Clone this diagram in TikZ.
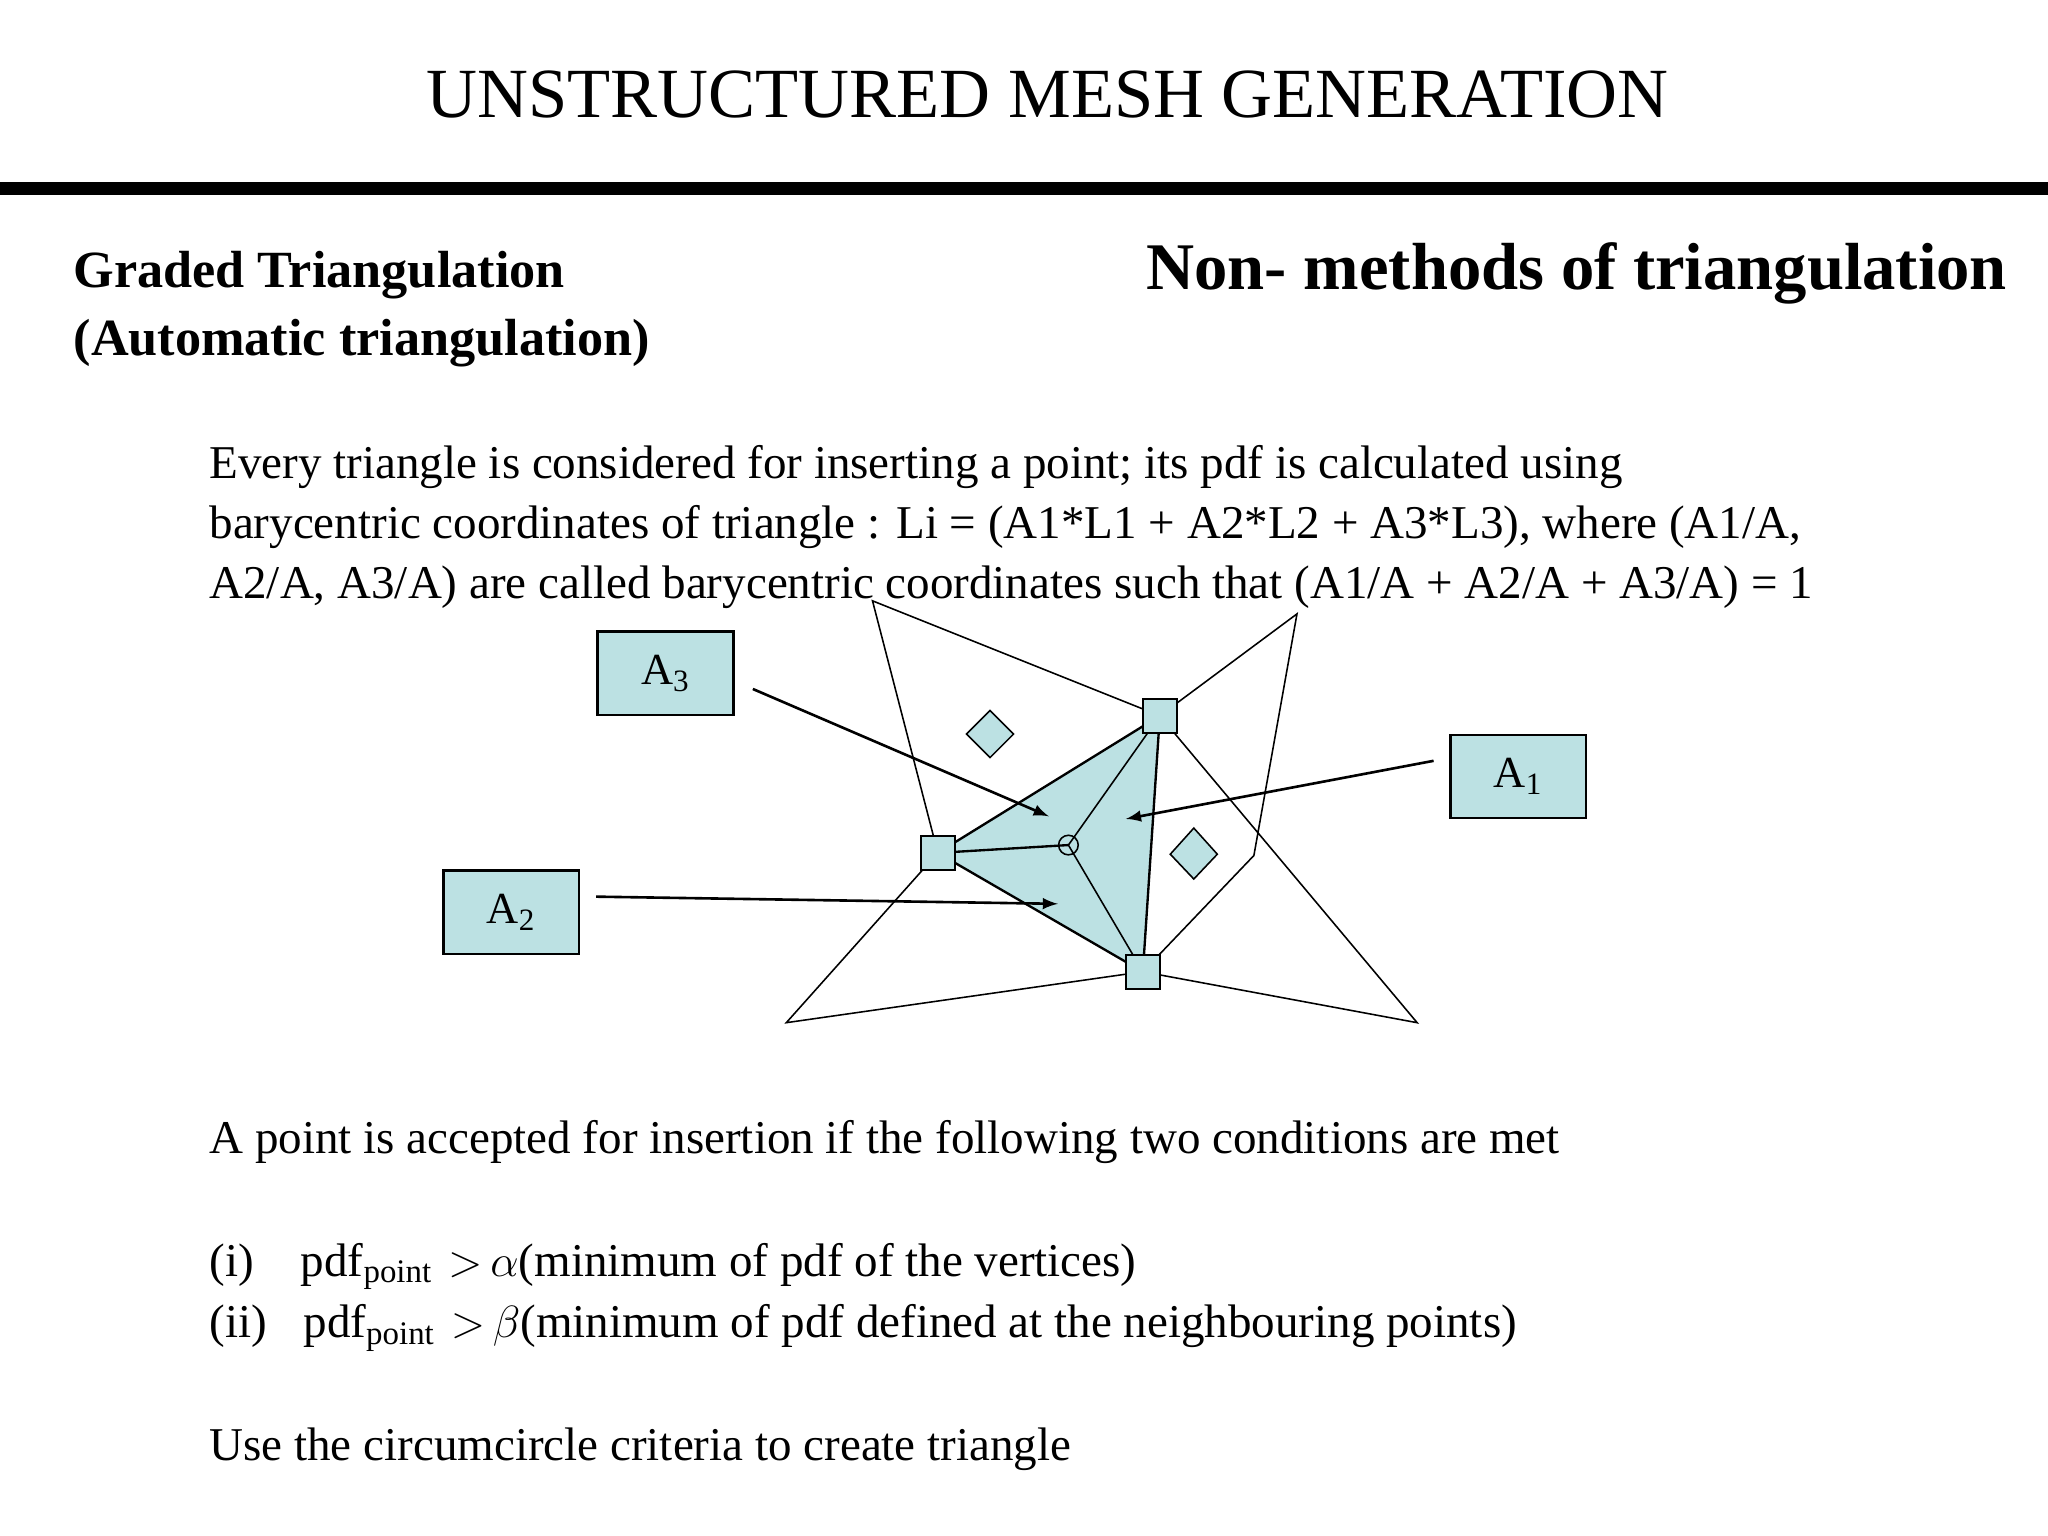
\documentclass[tikz,border=0pt]{standalone}
\usepackage{fontspec}
\setmainfont{Liberation Serif}
\definecolor{teal1}{HTML}{BCE1E3}
\begin{document}
\begin{tikzpicture}[x=0.5pt,y=-0.5pt,
  sq/.style={draw,fill=teal1,minimum size=13pt,inner sep=0pt,line width=0.6pt},
  lab/.style={draw,fill=teal1,minimum width=52pt,minimum height=32pt,line width=0.9pt,font=\fontsize{17}{20}\selectfont},
  arr/.style={-latex,line width=1pt},
  txt/.style={anchor=base west,inner sep=0pt,font=\fontsize{18}{23}\selectfont}]
\useasboundingbox (0,0) rectangle (1568,1176);
\fill[white] (0,0) rectangle (1568,1176);
\node[anchor=base,inner sep=0pt,font=\fontsize{27}{30}\selectfont] (title) at (802,90) {UNSTRUCTURED MESH GENERATION};
\fill (0,139) rectangle (1568,149);
\node[anchor=base west,inner sep=0pt,font=\bfseries\fontsize{20}{26}\selectfont,align=left] (g1) at (56,220) {Graded Triangulation};
\node[anchor=base west,inner sep=0pt,font=\bfseries\fontsize{20}{26}\selectfont] (g2) at (56,272) {(Automatic triangulation)};
\node[anchor=base east,inner sep=0pt,font=\bfseries\fontsize{25.5}{30}\selectfont] (nm) at (1537,222) {Non- methods of triangulation};
\node[txt] (b1) at (160,366) {Every triangle is considered for inserting a point; its pdf is calculated using};
\node[txt] (b2) at (160,412) {barycentric coordinates of triangle : Li = (A1*L1 + A2*L2 + A3*L3), where (A1/A,};
\node[txt] (b3) at (160,458) {A2/A, A3/A) are called barycentric coordinates such that (A1/A + A2/A + A3/A) = 1};
% mesh
\coordinate (T) at (888,548); \coordinate (L) at (718,653); \coordinate (B) at (875,744);
\coordinate (C) at (818,647);
\coordinate (p1) at (668,460); \coordinate (p2) at (993,470); \coordinate (p3) at (960,655);
\coordinate (p4) at (1085,783); \coordinate (p5) at (602,783);
\fill[teal1] (L) -- (T) -- (B) -- cycle;
\draw[line width=0.6pt] (L) -- (p1) -- (T) -- (p2) -- (p3) -- (B) -- (p4) -- (T) (L) -- (p5) -- (B);
\draw[line width=0.9pt] (L) -- (T) -- (B) -- cycle;
\draw[line width=0.9pt] (L) -- (C);
\draw[line width=0.6pt] (C) -- (T) (C) -- (B);
\node[draw,circle,minimum size=7.5pt,inner sep=0pt,line width=0.6pt] (cc) at (C) {};
\node[sq] (sT) at (T) {}; \node[sq] (sL) at (L) {}; \node[sq] (sB) at (B) {};
\draw[fill=teal1,line width=0.6pt] (758,544) -- (776,562) -- (758,580) -- (740,562) -- cycle;
\draw[fill=teal1,line width=0.6pt] (914,634) -- (932,654) -- (914,673) -- (896,654) -- cycle;
\node[lab] (A3) at (509.5,515.5) {A\textsubscript{3}};
\node[lab] (A1) at (1162.5,594.5) {A\textsubscript{1}};
\node[lab] (A2) at (391.5,698.5) {A\textsubscript{2}};
\coordinate (e3) at (803,625); \coordinate (e1) at (862,627); \coordinate (e2) at (810,692);
\draw[arr] ([xshift=7pt,yshift=-6pt]A3.east) -- (e3);
\draw[arr] ([xshift=-6pt,yshift=6pt]A1.west) -- (e1);
\draw[arr] ([xshift=6pt,yshift=6pt]A2.east) -- (e2);
\node[txt] (c0) at (160,883) {A point is accepted for insertion if the following two conditions are met};
\node[txt] (c1) at (160,977) {(i)\hspace{18pt}pdf\textsubscript{point}\,\,${>}$\,$\alpha$(minimum of pdf of the vertices)};
\node[txt] (c2) at (160,1024) {(ii)\hspace{14pt}pdf\textsubscript{point}\,\,${>}$\,$\beta$(minimum of pdf defined at the neighbouring points)};
\node[txt] (c3) at (160,1118) {Use the circumcircle criteria to create triangle};
\end{tikzpicture}
\end{document}
